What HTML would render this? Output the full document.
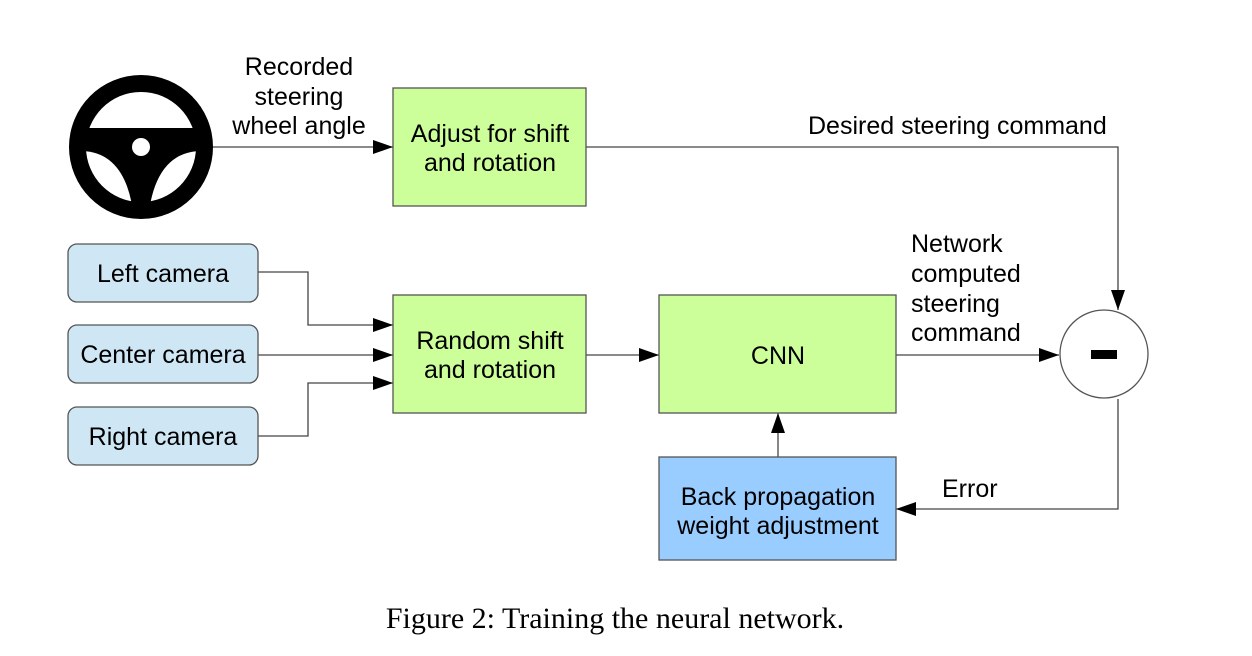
<!DOCTYPE html>
<html><head><style>
html,body{margin:0;padding:0;background:#fff;}
svg{display:block;}
text{font-family:"Liberation Sans",sans-serif;font-size:25px;fill:#000;}
</style></head><body>
<svg width="1252" height="656" viewBox="0 0 1252 656">
<defs>
<marker id="a" markerWidth="20" markerHeight="14" refX="20" refY="7" orient="auto" markerUnits="userSpaceOnUse"><path d="M0,0 L20,7 L0,14 Z" fill="#000"/></marker>
<clipPath id="c"><circle cx="141" cy="147" r="55"/></clipPath>
</defs>
<circle cx="141" cy="147" r="72" fill="#000"/>
<g clip-path="url(#c)" fill="#fff">
<rect x="80" y="60" width="125" height="68"/>
<path d="M80,151 Q122,151 132,205 L132,225 L70,225 Z"/>
<path d="M202,151 Q160,151 150,205 L150,225 L212,225 Z"/>
</g>
<circle cx="141" cy="147" r="9" fill="#fff"/>
<g stroke="#444" stroke-width="1.3" fill="none">
<line x1="213" y1="147" x2="393" y2="147" marker-end="url(#a)"/>
<polyline points="586,147 1118,147 1118,310" marker-end="url(#a)"/>
<polyline points="258,272 308,272 308,325 393,325" marker-end="url(#a)"/>
<line x1="258" y1="355" x2="393" y2="355" marker-end="url(#a)"/>
<polyline points="258,436 308,436 308,383 393,383" marker-end="url(#a)"/>
<line x1="586" y1="355" x2="659" y2="355" marker-end="url(#a)"/>
<line x1="896" y1="355" x2="1059" y2="355" marker-end="url(#a)"/>
<line x1="778" y1="457" x2="778" y2="413" marker-end="url(#a)"/>
<polyline points="1118,399 1118,509 896,509" marker-end="url(#a)"/>
</g>
<g stroke="#555" stroke-width="1.3">
<rect x="393" y="88" width="193" height="118" fill="#ccff99"/>
<rect x="393" y="295" width="193" height="118" fill="#ccff99"/>
<rect x="659" y="295" width="237" height="118" fill="#ccff99"/>
<rect x="659" y="457" width="237" height="103" fill="#99ccff"/>
<rect x="68" y="244" width="190" height="58" rx="9" fill="#cfe7f5"/>
<rect x="68" y="325" width="190" height="58" rx="9" fill="#cfe7f5"/>
<rect x="68" y="407" width="190" height="58" rx="9" fill="#cfe7f5"/>
<circle cx="1104" cy="354" r="44" fill="#fff"/>
</g>
<rect x="1091" y="350" width="26" height="9" fill="#000"/>
<g text-anchor="middle">
<text x="299" y="75">Recorded</text>
<text x="299" y="105">steering</text>
<text x="299" y="134">wheel angle</text>
<text x="490" y="142">Adjust for shift</text>
<text x="490" y="171">and rotation</text>
<text x="490" y="349">Random shift</text>
<text x="490" y="378">and rotation</text>
<text x="778" y="364">CNN</text>
<text x="778" y="505">Back propagation</text>
<text x="778" y="534">weight adjustment</text>
<text x="163" y="282">Left camera</text>
<text x="163" y="363">Center camera</text>
<text x="163" y="445">Right camera</text>
</g>
<text x="808" y="134">Desired steering command</text>
<text x="911" y="252">Network</text>
<text x="911" y="282">computed</text>
<text x="911" y="312">steering</text>
<text x="911" y="341">command</text>
<text x="942" y="497">Error</text>
<text x="615" y="628" text-anchor="middle" style="font-family:'Liberation Serif',serif;font-size:30px">Figure 2: Training the neural network.</text>
</svg>
</body></html>
